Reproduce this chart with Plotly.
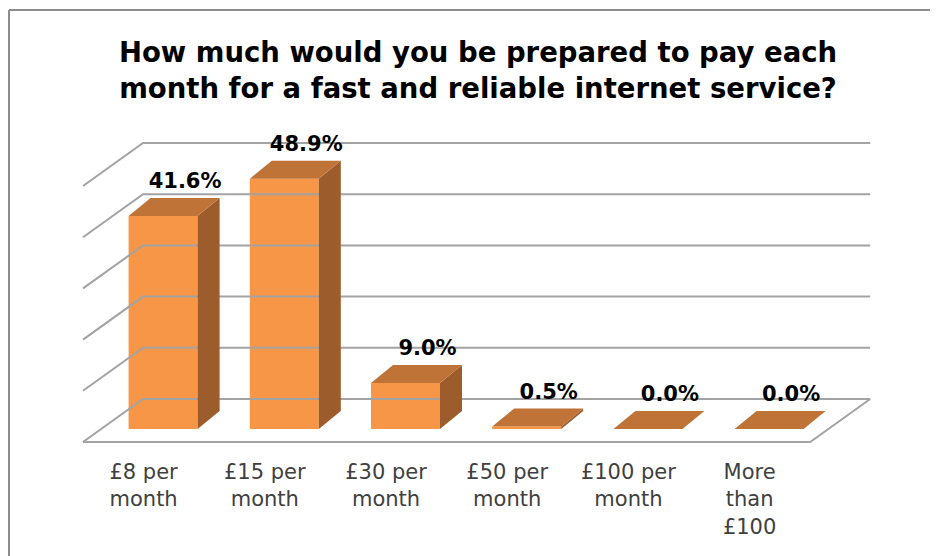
import plotly.graph_objects as go

# ---------------- data ----------------
categories = ["£8 per<br>month", "£15 per<br>month", "£30 per<br>month",
              "£50 per<br>month", "£100 per<br>month", "More<br>than<br>£100"]
values = [41.6, 48.9, 9.0, 0.5, 0.0, 0.0]
value_labels = ["41.6%", "48.9%", "9.0%", "0.5%", "0.0%", "0.0%"]
gridline_values = [0, 10, 20, 30, 40, 50]
title_text = ("How much would you be prepared to pay each<br>"
              "month for a fast and reliable internet service?")

# ---------------- layout geometry (page has an 8px body margin) ----------------
W, H = 930, 548
PXX = 121.2          # pixels per category
PXY = 5.12           # pixels per percent
FRONT_LEFT_PX = 75
FRONT_Y_PX = 434
ML, MR, MT, MB = 72, 63, 107, 100
PW, PH = W - ML - MR, H - MT - MB

x0 = -0.5 - (FRONT_LEFT_PX - ML) / PXX
x1 = x0 + PW / PXX
y0 = -(H - MB - FRONT_Y_PX) / PXY
y1 = y0 + PH / PXY

WALL_DX, WALL_DY = 60 / PXX, 43 / PXY      # depth of the floor / back wall
BAR_OFF = 19.5 / PXX                       # front-face centre shift
BAR_W = 69 / PXX
BAR_BASE = 13 / PXY
DEP_DX, DEP_DY = 22 / PXX, 18 / PXY        # bar depth
LABEL_DY = 15 / PXY

FRONT = "#F79646"
SIDE = "#9C5C2B"
TOP = "#BF7337"
GRID = "#A3A3A3"

n = len(categories)
idx = list(range(n))
left_x, right_x = -0.5, n - 0.5

fig = go.Figure()

# gridlines (back wall + left wall diagonals) and floor
gx, gy = [], []
for g in gridline_values:
    gx += [left_x, left_x + WALL_DX, right_x + WALL_DX, None]
    gy += [g, g + WALL_DY, g + WALL_DY, None]
gx += [left_x, right_x, right_x + WALL_DX, None]
gy += [0, 0, WALL_DY, None]
fig.add_trace(go.Scatter(x=gx, y=gy, mode="lines",
                         line=dict(color=GRID, width=2), hoverinfo="skip"))

# front faces
fig.add_trace(go.Bar(x=[i + BAR_OFF for i in idx], y=values, base=BAR_BASE,
                     width=BAR_W, marker=dict(color=FRONT, line=dict(width=0)),
                     hoverinfo="skip"))

# side and top faces
for i, v in zip(idx, values):
    xl = i + BAR_OFF - BAR_W / 2
    xr = i + BAR_OFF + BAR_W / 2
    b = BAR_BASE
    if v > 0:
        fig.add_trace(go.Scatter(
            x=[xr, xr + DEP_DX, xr + DEP_DX, xr, xr],
            y=[b, b + DEP_DY, b + v + DEP_DY, b + v, b],
            mode="lines", fill="toself", fillcolor=SIDE,
            line=dict(width=0, color=SIDE), hoverinfo="skip"))
    fig.add_trace(go.Scatter(
        x=[xl, xr, xr + DEP_DX, xl + DEP_DX, xl],
        y=[b + v, b + v, b + v + DEP_DY, b + v + DEP_DY, b + v],
        mode="lines", fill="toself", fillcolor=TOP,
        line=dict(width=0, color=TOP), hoverinfo="skip"))

# data labels
fig.add_trace(go.Scatter(
    x=[i + BAR_OFF + DEP_DX for i in idx],
    y=[v + BAR_BASE + DEP_DY + LABEL_DY for v in values],
    mode="text", text=[f"<b>{t}</b>" for t in value_labels],
    textposition="middle center",
    textfont=dict(family="DejaVu Sans", size=21, color="black"),
    hoverinfo="skip", cliponaxis=False))

# border (top and left edges of the chart frame)
def px_to_paper_x(px):
    return (px - ML) / PW

def px_to_paper_y(py):
    return (H - MB - py) / PH

fig.add_shape(type="line", xref="paper", yref="paper",
              x0=px_to_paper_x(1), x1=px_to_paper_x(W + 5),
              y0=px_to_paper_y(2), y1=px_to_paper_y(2),
              line=dict(color="#8C8C8C", width=2))
fig.add_shape(type="line", xref="paper", yref="paper",
              x0=px_to_paper_x(1), x1=px_to_paper_x(1),
              y0=px_to_paper_y(2), y1=px_to_paper_y(H + 5),
              line=dict(color="#8C8C8C", width=2))

fig.update_layout(
    width=W, height=H,
    margin=dict(l=ML, r=MR, t=MT, b=MB),
    paper_bgcolor="white", plot_bgcolor="white",
    showlegend=False,
    title=dict(text=f"<b>{title_text}</b>", xref="container", yref="container",
               x=470 / W, y=1 - 54 / H, xanchor="center", yanchor="middle",
               font=dict(family="DejaVu Sans", size=27.5, color="black")),
    xaxis=dict(range=[x0, x1], tickvals=idx, ticktext=categories,
               showgrid=False, zeroline=False, showline=False, ticks="",
               tickfont=dict(family="DejaVu Sans", size=21, color="#404040"),
               ticklabelstandoff=1, fixedrange=True),
    yaxis=dict(range=[y0, y1], visible=False, fixedrange=True),
)

fig.write_html("out.html")
